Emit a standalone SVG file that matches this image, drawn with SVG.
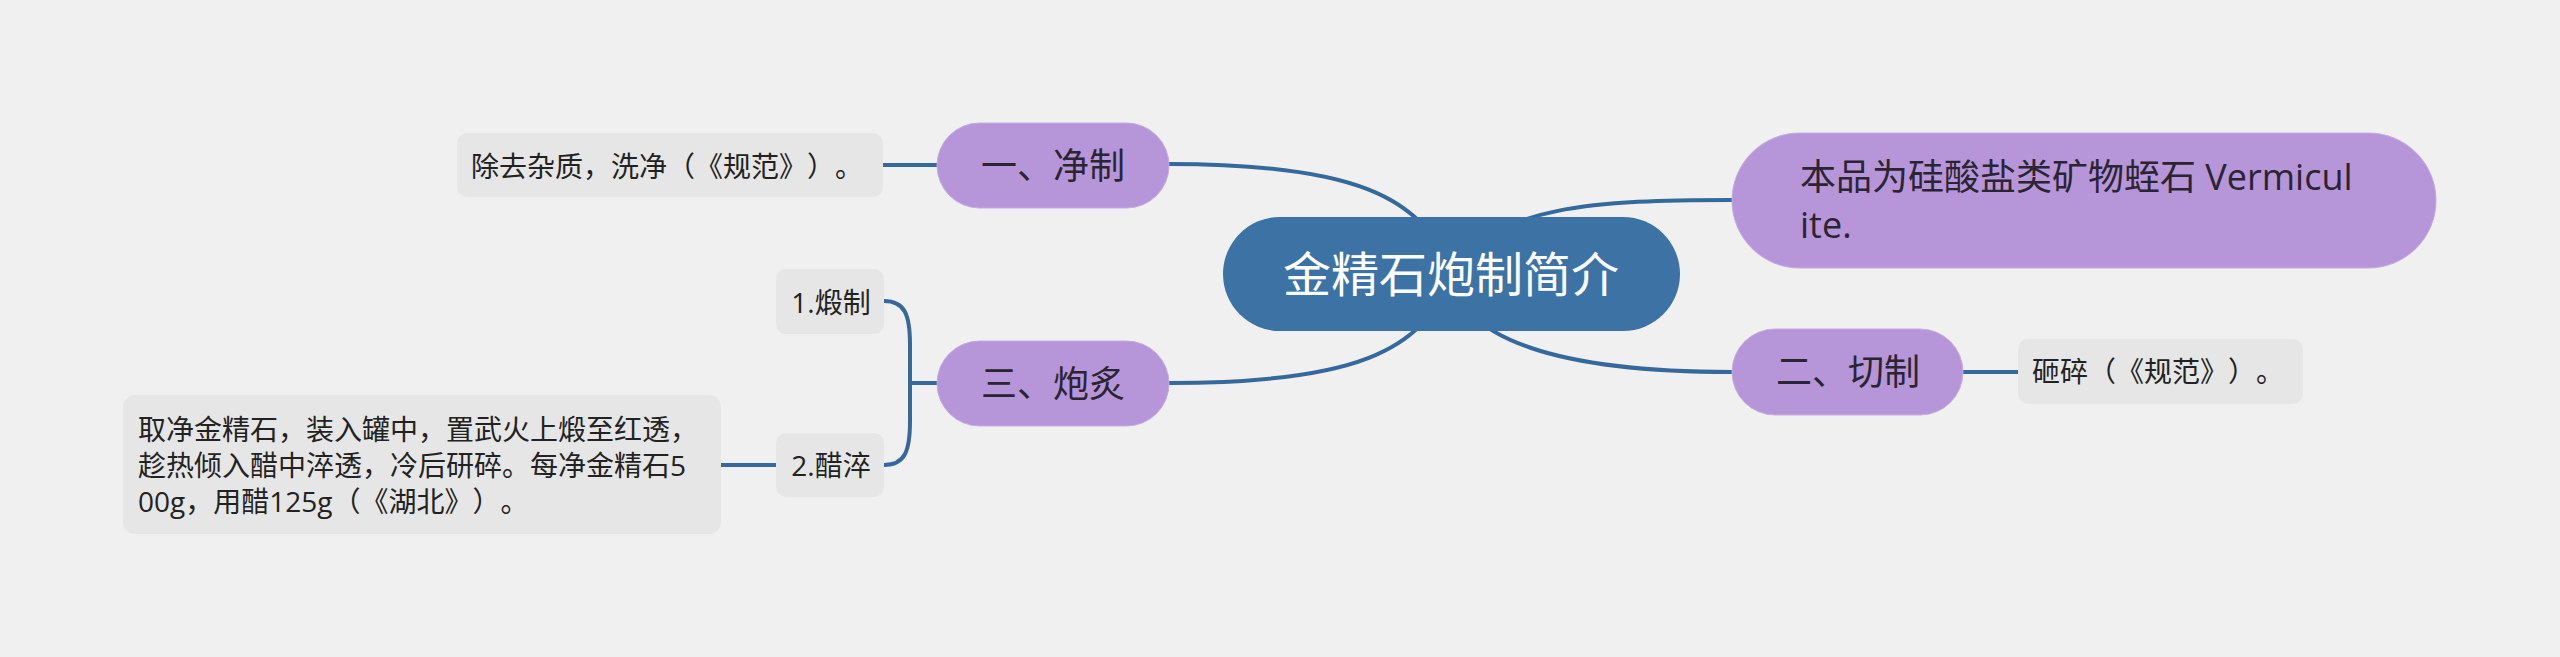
<svg xmlns="http://www.w3.org/2000/svg" width="2560" height="657" viewBox="0 0 2560 657">
<style>
text{font-family:"Open Sans","Noto Sans CJK SC",sans-serif;text-spacing-trim:space-all;font-feature-settings:"halt" 0,"chws" 0;}
.conn{fill:none;stroke:#36699b;stroke-width:4;stroke-linecap:round;}
.main rect{fill:#3c72a4;}
.main text{fill:#ffffff;font-size:48px;text-anchor:middle;}
.sub rect{fill:#b696d9;stroke:#c4abe2;stroke-width:1;}
.sub text{fill:#2b2433;font-size:36px;}
.leaf rect{fill:#e6e6e6;}
.leaf text{fill:#222222;font-size:28px;}
.mid{text-anchor:middle;}
</style>
<rect x="0" y="0" width="2560" height="657" fill="#f0f0f0"/>
<g id="connectors">
<path class="conn" d="M1169,164 C1350,164 1425,195 1451,274"/>
<path class="conn" d="M1169,383 C1350,383 1425,353 1451,274"/>
<path class="conn" d="M1451,274 C1490,205 1600,200 1732,200"/>
<path class="conn" d="M1451,274 C1460,340 1560,372 1732,372"/>
<path class="conn" d="M883,165 L937,165"/>
<path class="conn" d="M1963,372 L2018,372"/>
<path class="conn" d="M910,383 L937,383"/>
<path class="conn" d="M884,301 C905,301 910,315 910,345 L910,421 C910,451 905,465 884,465"/>
<path class="conn" d="M721,465 L776,465"/>
</g>
<g id="root" class="main">
<rect x="1223" y="217" width="457" height="114" rx="57"/>
<text x="1451" y="292">金精石炮制简介</text>
</g>
<g id="n-jingzhi" class="sub">
<rect x="937" y="123" width="232" height="85" rx="42.5"/>
<text class="mid" x="1053" y="179">一、净制</text>
</g>
<g id="n-paozhi" class="sub">
<rect x="937" y="341" width="232" height="85" rx="42.5"/>
<text class="mid" x="1053" y="397">三、炮炙</text>
</g>
<g id="n-intro" class="sub">
<rect x="1732" y="133" width="704" height="135" rx="67.5"/>
<text x="1800" y="190">本品为硅酸盐类矿物蛭石 Vermicul</text>
<text x="1800" y="238">ite.</text>
</g>
<g id="n-qiezhi" class="sub">
<rect x="1732" y="329" width="231" height="86" rx="43"/>
<text class="mid" x="1848" y="385">二、切制</text>
</g>
<g id="l-jingzhi" class="leaf">
<rect x="457" y="133" width="426" height="64" rx="10"/>
<text x="471" y="177">除去杂质，洗净（《规范》）。</text>
</g>
<g id="l-qiezhi" class="leaf">
<rect x="2018" y="339" width="285" height="65" rx="10"/>
<text x="2032" y="382">砸碎（《规范》）。</text>
</g>
<g id="l-duanzhi" class="leaf">
<rect x="776" y="269" width="108" height="65" rx="10"/>
<text class="mid" x="831" y="313">1.煅制</text>
</g>
<g id="l-cuicui" class="leaf">
<rect x="776" y="433" width="108" height="64" rx="10"/>
<text class="mid" x="831" y="476">2.醋淬</text>
</g>
<g id="l-cuicui-detail" class="leaf">
<rect x="123" y="395" width="598" height="139" rx="12"/>
<text x="138" y="440">取净金精石，装入罐中，置武火上煅至红透，</text>
<text x="138" y="476">趁热倾入醋中淬透，冷后研碎。每净金精石5</text>
<text x="138" y="512">00g，用醋125g（《湖北》）。</text>
</g>
</svg>
